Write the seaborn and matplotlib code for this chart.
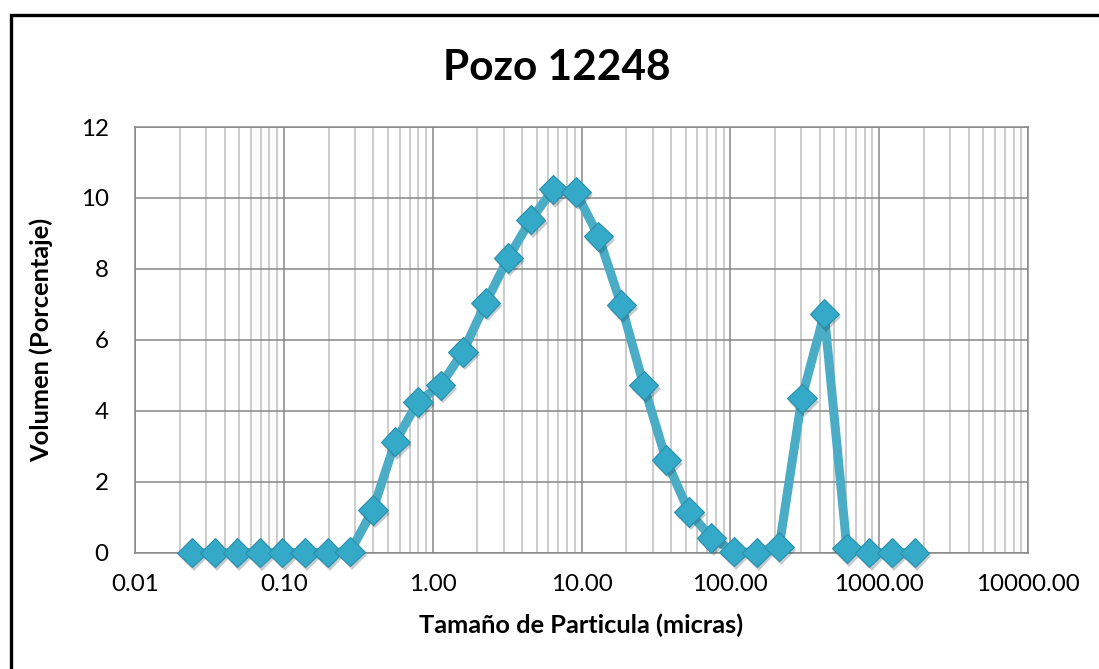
import numpy as np
import matplotlib
matplotlib.use("Agg")
import matplotlib.pyplot as plt
import matplotlib.patheffects as pe
from matplotlib.patches import Rectangle
from matplotlib.ticker import FixedLocator, FixedFormatter, LogLocator, NullFormatter
import seaborn as sns


# DATOS
tamano = [0.0242, 0.0343, 0.0487, 0.0690, 0.0979, 0.1388, 0.197, 0.279,
          0.396, 0.561, 0.796, 1.129, 1.60, 2.27, 3.22, 4.56, 6.47, 9.18,
          13.0, 18.5, 26.2, 37.1, 52.7, 74.7, 106, 150, 213, 302, 428, 607,
          861, 1220, 1730]
volumen = [0, 0, 0, 0, 0, 0, 0, 0.03, 1.2, 3.13, 4.25, 4.72, 5.66, 7.04,
           8.31, 9.39, 10.24, 10.17, 8.92, 6.98, 4.72, 2.61, 1.15, 0.42,
           0.03, 0, 0.17, 4.35, 6.74, 0.12, 0, 0, 0]

x_ticks = [0.01, 0.1, 1, 10, 100, 1000, 10000]
x_labels = ["0.01", "0.10", "1.00", "10.00", "100.00", "1000.00", "10000.00"]
y_ticks = [0, 2, 4, 6, 8, 10, 12]

titulo = "Pozo 12248"
x_titulo = "Tamaño de Particula (micras)"
y_titulo = "Volumen (Porcentaje)"


# ESTILO
sns.set_style("white")
plt.rcParams["font.family"] = ["Lato", "DejaVu Sans"]
plt.rcParams["text.color"] = "black"
plt.rcParams["xtick.labelcolor"] = "black"
plt.rcParams["ytick.labelcolor"] = "black"
plt.rcParams["axes.labelcolor"] = "black"

fig = plt.figure(figsize=(10.99, 6.69), dpi=100)
ax = fig.add_axes([135 / 1099, 1 - 552.7 / 669, (1028 - 135) / 1099, (552.7 - 127) / 669])

linea = "#4BACC6"
marcador = "#34A9C8"

sns.lineplot(x=tamano, y=volumen, ax=ax, color=linea, linewidth=6.5,
             sort=False, zorder=3)
ax.plot(tamano, volumen, linestyle="none", marker="D", markersize=15,
        markerfacecolor=marcador, markeredgecolor="#2B8EAA", markeredgewidth=0.8,
        zorder=4, clip_on=False,
        path_effects=[pe.SimplePatchShadow(offset=(1.5, -2.5), alpha=0.25), pe.Normal()])

ax.set_xscale("log")
ax.set_xlim(0.01, 10000)
ax.set_ylim(0, 12)

ax.xaxis.set_major_locator(FixedLocator(x_ticks))
ax.xaxis.set_major_formatter(FixedFormatter(x_labels))
ax.xaxis.set_minor_locator(LogLocator(base=10, subs=np.arange(2, 10)))
ax.xaxis.set_minor_formatter(NullFormatter())
ax.set_yticks(y_ticks)

ax.grid(True, which="major", axis="both", color="#878787", linewidth=1.1, zorder=0)
ax.grid(True, which="minor", axis="x", color="#BFBFBF", linewidth=1.1, zorder=0)
ax.set_axisbelow(True)

for s in ax.spines.values():
    s.set_color("#878787")
    s.set_linewidth(1.1)

ax.tick_params(axis="x", which="major", length=5, width=1.1, color="#878787",
               direction="out", pad=10, labelsize=17.4)
ax.tick_params(axis="x", which="minor", length=0)
ax.tick_params(axis="y", length=0, pad=19, labelsize=17.4)

ax.set_xlabel(x_titulo, fontsize=18.3, fontweight="bold", labelpad=14)
ax.set_ylabel(y_titulo, fontsize=18.3, fontweight="bold", labelpad=20)

fig.text(557 / 1099, 1 - 68 / 669, titulo, fontsize=30.5, fontweight="bold",
         ha="center", va="center")

# marco del grafico
fig.add_artist(Rectangle((10.5 / 1099, -0.2), 1.3, 0.2 + 1 - 15 / 669,
                         transform=fig.transFigure, fill=False,
                         edgecolor="black", linewidth=2.4))

fig.savefig("out.png", dpi=100)
